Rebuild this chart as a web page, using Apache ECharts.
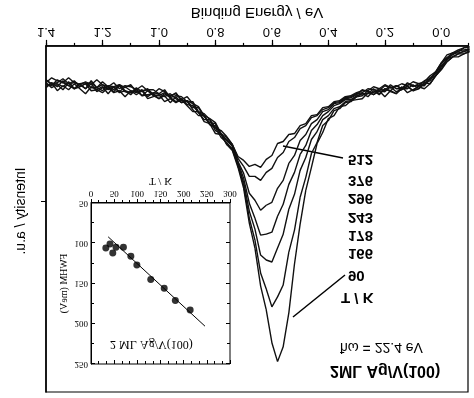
<!DOCTYPE html>
<html>
<head>
<meta charset="utf-8">
<script src="https://cdn.jsdelivr.net/npm/echarts@6/dist/echarts.min.js"></script>
<style>
  body { margin: 0; background: #fff; }
  /* the scanned figure is mirrored top to bottom, so draw it the normal way and flip the box */
  #main { width: 474px; height: 398px; transform: scaleY(-1); }
</style>
</head>
<body>
<div id="main"></div>
<script>
// binding energy grid (eV)
var energy = [1.40,1.38,1.36,1.34,1.32,1.30,1.28,1.26,1.24,1.22,1.20,1.18,1.16,1.14,1.12,1.10,1.08,1.06,1.04,1.02,
  1.00,0.98,0.96,0.94,0.92,0.90,0.88,0.86,0.84,0.82,0.80,0.78,0.76,0.74,0.72,0.70,0.68,0.66,0.64,0.62,
  0.60,0.58,0.56,0.54,0.52,0.50,0.48,0.46,0.44,0.42,0.40,0.38,0.36,0.34,0.32,0.30,0.28,0.26,0.24,0.22,
  0.20,0.18,0.16,0.14,0.12,0.10,0.08,0.06,0.04,0.02,0.00,-0.02,-0.04,-0.06,-0.08,-0.10];

// intensity (a.u.) for each temperature
var t90 = [42,37,45,40,44,38,43,48,41,44, 47,42,47,45,51,45,49,45,53,51, 49,56,53,57,54,60,66,66,76,78, 88,89,99,
  105,122,143,178,203,241,265,298,317,302, 268,219,179,145,122,98,87,73,70,61, 60,55,54,
  53,47,49,45,51,45,48,41,47,44, 41,43,38,30,24,16,11,11,8,6];
var t166 = [37,42,39,44,37,43,41,38,45,44, 41,48,41,47,45,49,43,50,49,48, 53,50,57,51,57,56,64,70,70,79, 82,92,97,
  104,120,140,173,195,228,244,262,252,240, 207,185,152,132,108,97,80,75,65,63, 57,56,51,
  48,51,45,49,43,46,48,43,41,45, 43,37,38,30,21,16,11,8,8,5];
var t178 = [41,37,41,35,40,43,38,43,38,46, 42,41,46,40,46,47,45,50,45,50, 53,48,52,56,53,59,60,67,74,74, 85,88,99,
  103,119,137,166,184,210,215,217,203,189, 164,149,125,112,94,86,74,70,63,61, 56,55,51,
  50,45,49,45,46,41,46,44,40,45, 40,40,33,30,23,13,11,8,5,5];
var t243 = [34,39,38,41,36,43,38,37,42,42, 45,40,41,46,41,45,47,44,51,47, 48,51,48,53,57,55,58,67,70,79, 80,89,94,
  101,117,133,158,173,190,189,187,171,159, 139,127,109,100,85,79,70,66,60,58, 54,54,50,
  48,48,43,48,43,45,40,43,43,39, 43,37,35,27,20,14,8,7,6,3];
var t296 = [38,40,34,37,40,36,39,43,35,42, 39,44,41,39,45,47,42,46,43,49, 50,47,51,47,55,55,62,62,71,77, 78,89,95,
  100,116,128,148,155,165,160,157,143,135, 118,110,95,89,78,74,66,64,58,57, 53,52,49,
  44,46,47,43,45,39,43,43,38,41, 38,39,32,28,18,12,9,5,4,3];
var t376 = [34,38,37,33,38,35,41,38,37,42, 36,41,44,39,42,39,46,45,44,44, 48,44,52,50,51,56,56,66,68,74, 82,85,91,
  99,113,121,131,131,135,127,123,112,107, 96,92,83,80,72,70,64,62,57,56, 52,51,48,
  47,43,44,45,40,42,40,43,37,40, 40,35,33,26,17,12,7,6,2,1];
var t512 = [37,32,35,37,32,37,39,36,39,34, 39,41,37,43,40,41,44,40,45,48, 43,46,50,48,54,51,58,61,70,73, 77,88,92,
  99,111,115,121,119,122,114,110,98,96, 89,88,80,78,70,69,62,61,56,55, 51,50,47,
  45,45,41,43,39,42,41,38,40,36, 38,36,30,26,17,9,7,4,2,1];
var tempLabels = ['90', '166', '178', '243', '296', '376', '512'];

// inset: FWHM vs T
var insetT = [32, 41, 47, 54, 70, 86, 99, 129, 158, 182, 214];
var insetFwhm = [106, 101, 112, 105, 105, 116, 127, 145, 156, 171, 183];
var fitT = [37, 246];
var fitFwhm = [92, 203];

var chart = echarts.init(document.getElementById('main'));

var sans = 'Liberation Sans';
var serif = 'Liberation Serif';

function spectrum(vals) {
  var out = [];
  for (var i = 0; i < energy.length; i++) {
    out.push([-energy[i], vals[i]]);   // axis runs as -E so 1.4 sits on the left
  }
  return out;
}

var spectra = [t90, t166, t178, t243, t296, t376, t512];
var series = [];
for (var k = 0; k < spectra.length; k++) {
  series.push({
    name: tempLabels[k] + ' K',
    type: 'line',
    xAxisIndex: 0,
    yAxisIndex: 0,
    data: spectrum(spectra[k]),
    showSymbol: false,
    silent: true,
    lineStyle: { color: '#111', width: 1.4 }
  });
}

var dots = [];
for (var j = 0; j < insetT.length; j++) dots.push([insetT[j], insetFwhm[j]]);
series.push({
  type: 'scatter',
  xAxisIndex: 2,
  yAxisIndex: 1,
  data: dots,
  symbolSize: 7,
  itemStyle: { color: '#000' }
});
series.push({
  type: 'line',
  xAxisIndex: 2,
  yAxisIndex: 1,
  data: [[fitT[0], fitFwhm[0]], [fitT[1], fitFwhm[1]]],
  showSymbol: false,
  lineStyle: { color: '#000', width: 1 }
});

// number labels beside the curves
var graphics = [];
var labelY = [123, 145, 163, 181, 200, 218, 239];
for (var n = 0; n < tempLabels.length; n++) {
  graphics.push({
    type: 'text', left: 348, top: labelY[n] - 8,
    style: { text: tempLabels[n], font: 'bold 15px ' + sans, fill: '#000' }
  });
}
graphics.push(
  { type: 'text', left: 341, top: 93, style: { text: 'T / K', font: 'bold 15px ' + sans, fill: '#000' } },
  { type: 'text', left: 340, top: 44, style: { text: 'ħω = 22.4 eV', font: '14px ' + sans, fill: '#000' } },
  { type: 'text', left: 330, top: 20, style: { text: '2ML Ag/V(100)', font: 'bold 16px ' + sans, fill: '#000' } },
  { type: 'text', left: 110, top: 48, style: { text: '2 ML Ag/V(100)', font: '12px ' + serif, fill: '#000' } },
  { type: 'line', shape: { x1: 283, y1: 252, x2: 343, y2: 240 }, style: { stroke: '#000', lineWidth: 1.5 } },
  { type: 'line', shape: { x1: 345, y1: 123, x2: 293, y2: 81 }, style: { stroke: '#000', lineWidth: 1.5 } },
  {
    type: 'text', x: 21, y: 187, rotation: Math.PI / 2,
    style: { text: 'Intensity / a.u.', font: '14px ' + sans, fill: '#000', align: 'center', verticalAlign: 'middle' }
  }
);

var option = {
  animation: false,
  grid: [
    { left: 46, right: 6, top: 6, bottom: 45, show: true, borderColor: '#000', borderWidth: 1.2 },
    { left: 91, right: 244, top: 34, bottom: 203, show: true, borderColor: '#000', borderWidth: 1, backgroundColor: '#fff' }
  ],
  xAxis: [
    {
      gridIndex: 0, type: 'value', position: 'bottom',
      min: -1.4, max: 0.0945, interval: 0.2,
      name: 'Binding Energy / eV', nameLocation: 'middle', nameGap: 25,
      nameTextStyle: { fontFamily: sans, fontSize: 15, color: '#000' },
      axisLine: { show: true, onZero: false, lineStyle: { color: '#000', width: 1.5 } },
      axisTick: { show: true, length: 6, lineStyle: { color: '#000', width: 1.2 } },
      axisLabel: {
        showMaxLabel: false, margin: 8, color: '#000', fontFamily: sans, fontSize: 13,
        formatter: function (v) { return Math.abs(v).toFixed(1); }
      },
      splitLine: { show: false }
    },
    {
      gridIndex: 0, type: 'value', position: 'bottom',
      min: -1.4, max: 0.0945, interval: 0.1,
      axisLine: { show: false, onZero: false },
      axisTick: { show: true, length: 3, lineStyle: { color: '#000', width: 1.2 } },
      axisLabel: { show: false },
      splitLine: { show: false }
    },
    {
      gridIndex: 1, type: 'value', position: 'bottom',
      min: 0, max: 300, interval: 50,
      name: 'T / K', nameLocation: 'middle', nameGap: 17,
      nameTextStyle: { fontFamily: serif, fontSize: 11, color: '#000' },
      axisLine: { show: true, onZero: false, lineStyle: { color: '#000', width: 1 } },
      axisTick: { show: true, length: 4, lineStyle: { color: '#000' } },
      minorTick: { show: true, splitNumber: 3, length: 3, lineStyle: { color: '#000' } },
      axisLabel: { margin: 5, color: '#000', fontFamily: serif, fontSize: 9 },
      splitLine: { show: false }
    },
    {
      gridIndex: 1, type: 'value', position: 'top',
      min: 0, max: 300, interval: 50,
      axisLine: { show: false, onZero: false },
      axisTick: { show: true, inside: true, length: 4, lineStyle: { color: '#000' } },
      minorTick: { show: true, splitNumber: 3, length: 3, lineStyle: { color: '#000' } },
      axisLabel: { show: false },
      splitLine: { show: false }
    }
  ],
  yAxis: [
    {
      gridIndex: 0, type: 'value', position: 'left', min: 0, max: 347.5,
      axisLine: { show: true, onZero: false, lineStyle: { color: '#000', width: 1.5 } },
      axisTick: { show: true, customValues: [156], length: 5, lineStyle: { color: '#000' } },
      axisLabel: { show: false },
      splitLine: { show: false }
    },
    {
      gridIndex: 1, type: 'value', position: 'left',
      min: 50, max: 250, interval: 50,
      name: 'FWHM (meV)', nameLocation: 'middle', nameGap: 22,
      nameTextStyle: { fontFamily: serif, fontSize: 10, color: '#000' },
      axisLine: { show: true, onZero: false, lineStyle: { color: '#000', width: 1 } },
      axisTick: { show: true, inside: true, length: 4, lineStyle: { color: '#000' } },
      minorTick: { show: true, splitNumber: 2, length: 3, lineStyle: { color: '#000' } },
      axisLabel: { margin: 3, color: '#000', fontFamily: serif, fontSize: 9 },
      splitLine: { show: false }
    },
    {
      gridIndex: 1, type: 'value', position: 'right',
      min: 50, max: 250, interval: 50,
      axisLine: { show: false, onZero: false },
      axisTick: { show: true, inside: true, length: 4, lineStyle: { color: '#000' } },
      minorTick: { show: true, splitNumber: 2, length: 3, lineStyle: { color: '#000' } },
      axisLabel: { show: false },
      splitLine: { show: false }
    }
  ],
  graphic: graphics,
  series: series
};

chart.setOption(option);
</script>
</body>
</html>
